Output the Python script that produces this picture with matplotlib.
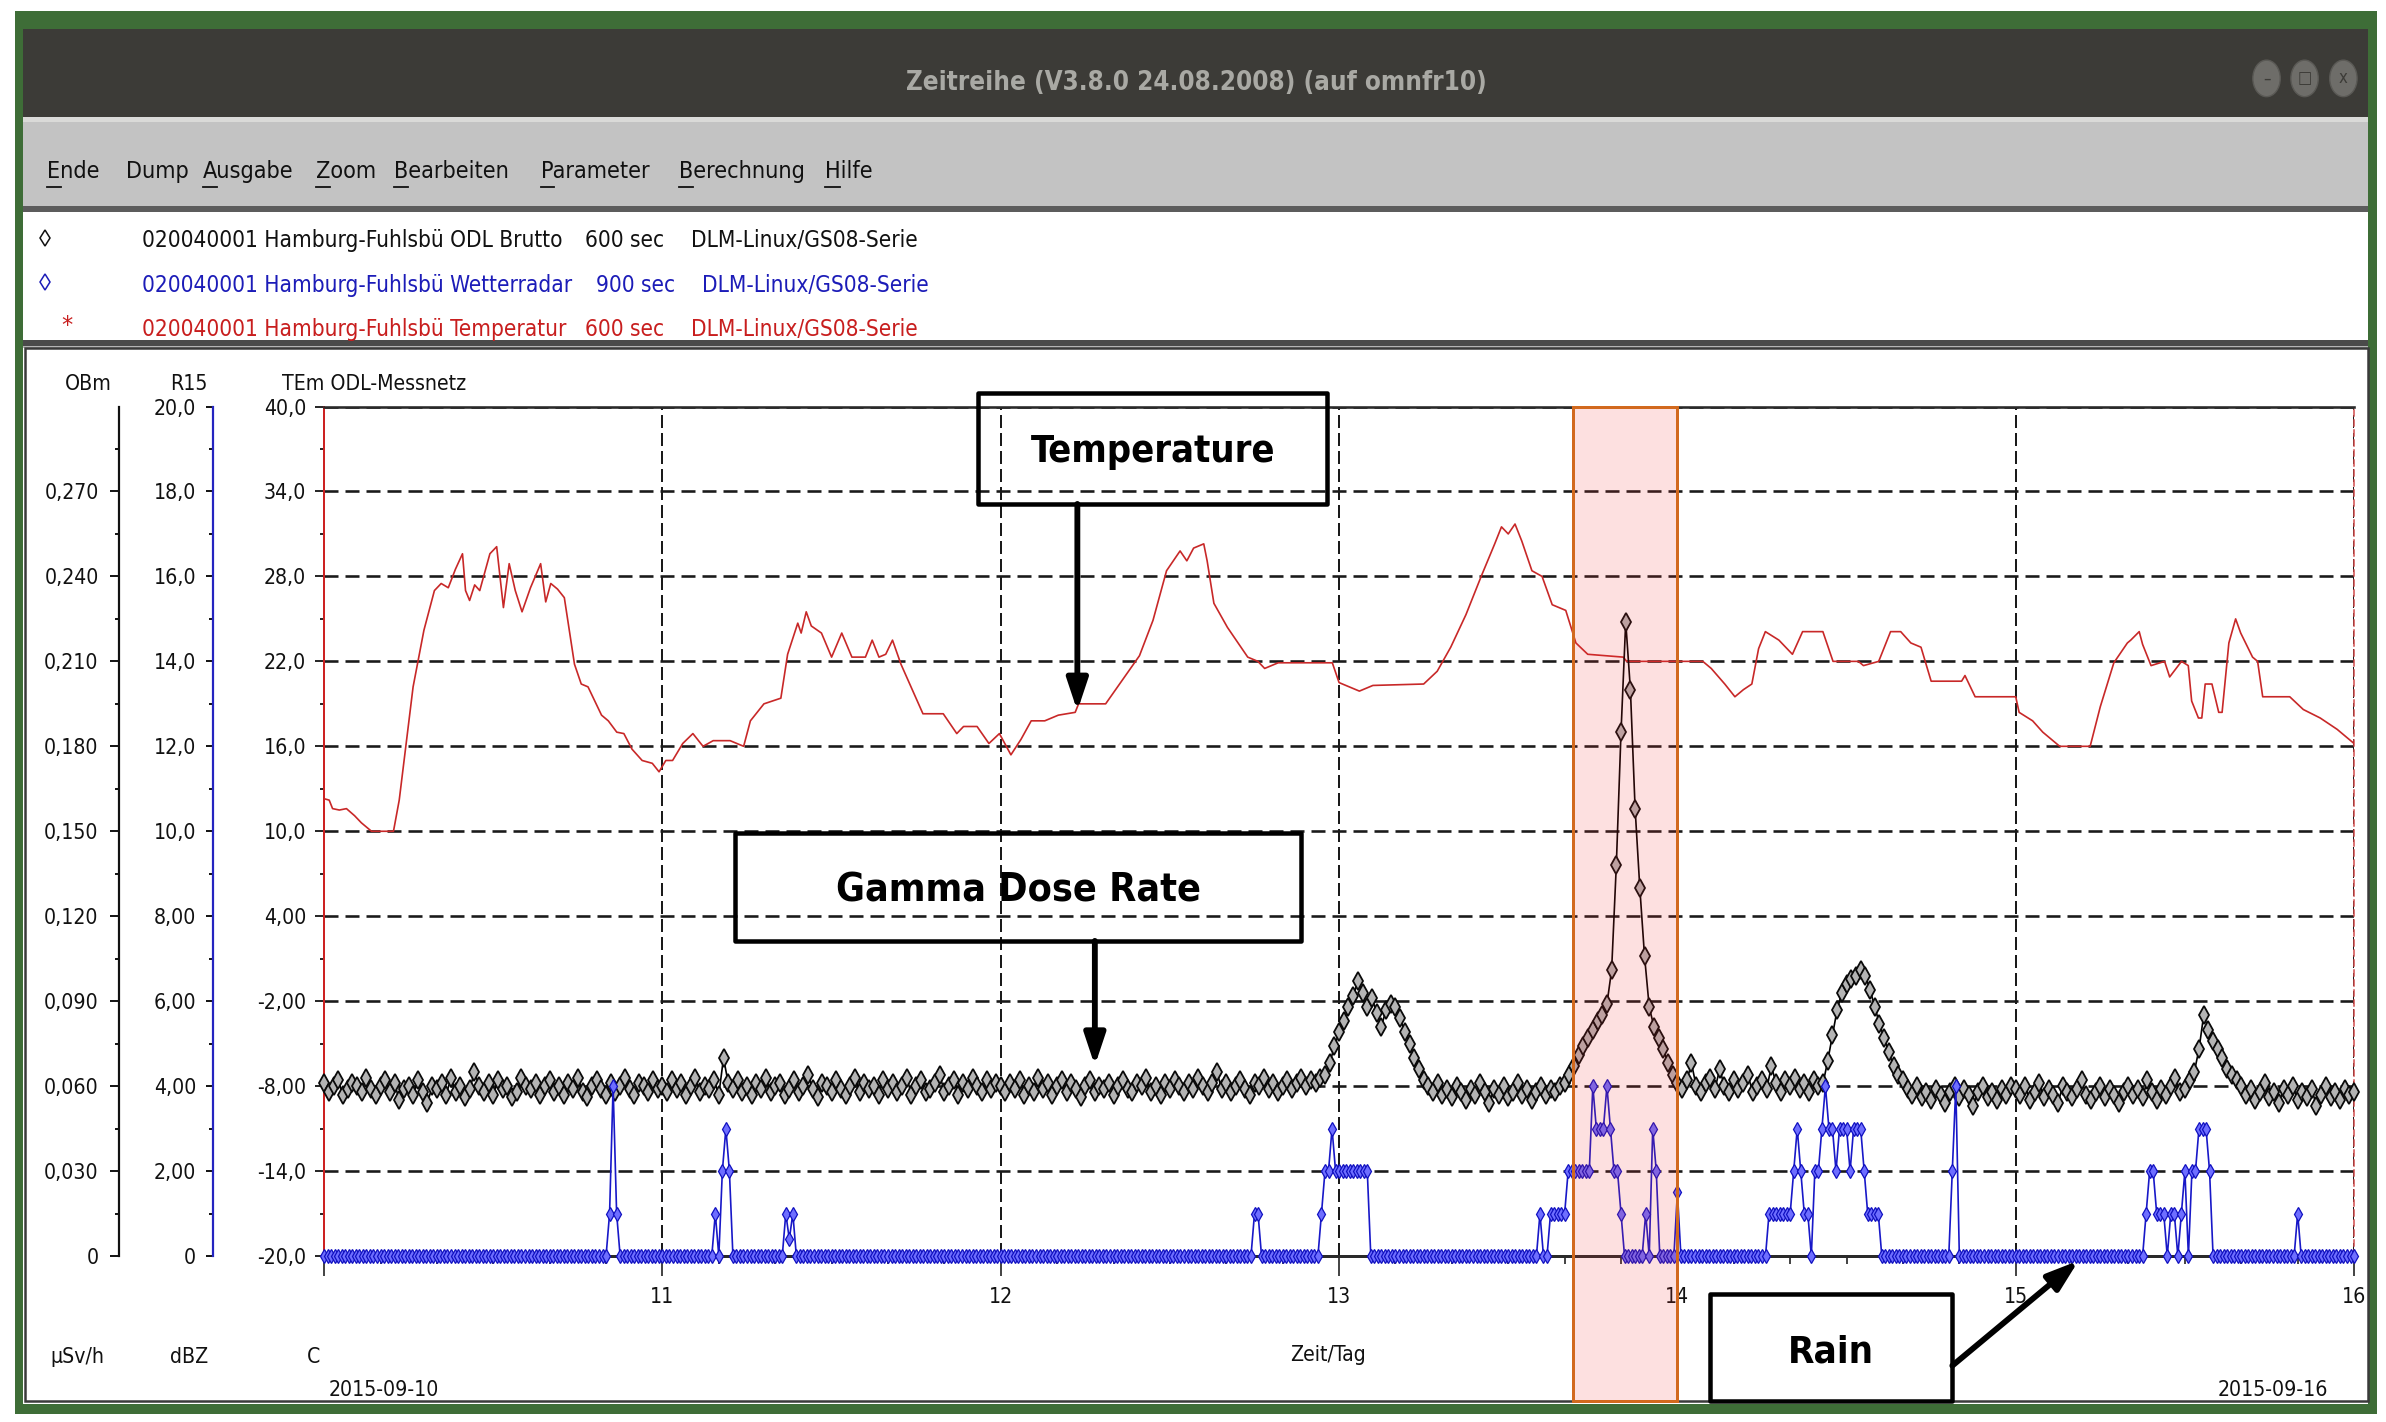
import numpy as np
import matplotlib
matplotlib.use("Agg")
import matplotlib.pyplot as plt
import matplotlib.transforms as mtransforms
from matplotlib import font_manager as fm
from matplotlib.patches import Rectangle, Ellipse, FancyArrowPatch
from matplotlib.lines import Line2D
from matplotlib.ticker import FixedLocator, MultipleLocator

# ------------------------------------------------------------------ font: prefer a narrow face
_COND = ("condensed", "semi-condensed", "extra-condensed", "ultra-condensed")
_font_choice = ("DejaVu Sans", "normal")
_entries = fm.fontManager.ttflist
for _pref in ["Liberation Sans Narrow", "Arial Narrow", "DejaVu Sans", "Noto Sans",
              "Open Sans", "Roboto", "Roboto Condensed", "Open Sans Condensed", "Lato", "Inter"]:
    _hit = [f for f in _entries if f.name == _pref and
            (str(f.stretch) in _COND or "Narrow" in f.name or "Condensed" in f.name)]
    if _hit:
        _font_choice = (_pref, str(_hit[0].stretch))
        break
plt.rcParams["font.family"] = [_font_choice[0], "DejaVu Sans"]
plt.rcParams["font.stretch"] = _font_choice[1]
plt.rcParams["lines.scale_dashes"] = False

# ------------------------------------------------------------------ texts
window_title = "Zeitreihe (V3.8.0 24.08.2008) (auf omnfr10)"
menu_items = ["Ende", "Dump", "Ausgabe", "Zoom", "Bearbeiten", "Parameter", "Berechnung", "Hilfe"]
menu_underlined = [True, False, True, True, True, True, True, True]
legend_names = ["020040001 Hamburg-Fuhlsbü ODL Brutto",
                "020040001 Hamburg-Fuhlsbü Wetterradar",
                "020040001 Hamburg-Fuhlsbü Temperatur"]
legend_intervals = ["600 sec", "900 sec", "600 sec"]
legend_source = "DLM-Linux/GS08-Serie"
axis_names = ["OBm", "R15", "TEm ODL-Messnetz"]
axis_units = ["µSv/h", "dBZ", "C"]
x_title = "Zeit/Tag"
date_first = "2015-09-10"
date_last = "2015-09-16"
annotation_labels = ["Temperature", "Gamma Dose Rate", "Rain"]

# ------------------------------------------------------------------ scales / ticks
obm_ticks = [0, 0.03, 0.06, 0.09, 0.12, 0.15, 0.18, 0.21, 0.24, 0.27]
obm_labels = ["0", "0,030", "0,060", "0,090", "0,120", "0,150", "0,180", "0,210", "0,240", "0,270"]
r15_ticks = [0, 2, 4, 6, 8, 10, 12, 14, 16, 18, 20]
r15_labels = ["0", "2,00", "4,00", "6,00", "8,00", "10,0", "12,0", "14,0", "16,0", "18,0", "20,0"]
tem_ticks = [-20, -14, -8, -2, 4, 10, 16, 22, 28, 34, 40]
tem_labels = ["-20,0", "-14,0", "-8,00", "-2,00", "4,00", "10,0", "16,0", "22,0", "28,0", "34,0", "40,0"]
day_ticks = [10, 11, 12, 13, 14, 15, 16]
day_labels = ["", "11", "12", "13", "14", "15", "16"]
highlight_days = [13.69, 14.0]

# ------------------------------------------------------------------ data
# gamma dose rate (uSv/h), 20-min samples starting 2015-09-10 00:00
gamma_start_day = 10.0
gamma_step_min = 20
gamma = [
    # 10.09.
    0.061, 0.058, 0.060, 0.062, 0.057, 0.059, 0.061, 0.060, 0.058, 0.063, 0.059, 0.057,
    0.060, 0.062, 0.058, 0.061, 0.055, 0.059, 0.060, 0.057, 0.062, 0.058, 0.054, 0.060,
    0.059, 0.061, 0.057, 0.063, 0.058, 0.060, 0.056, 0.059, 0.065, 0.060, 0.058, 0.061,
    0.057, 0.062, 0.059, 0.060, 0.056, 0.058, 0.063, 0.060, 0.059, 0.061, 0.057, 0.060,
    0.062, 0.058, 0.060, 0.057, 0.061, 0.059, 0.063, 0.058, 0.056, 0.060, 0.062, 0.059,
    0.057, 0.061, 0.058, 0.060, 0.063, 0.059, 0.057, 0.061, 0.060, 0.058, 0.062, 0.059,
    # 11.09.
    0.060, 0.058, 0.062, 0.059, 0.061, 0.057, 0.060, 0.063, 0.058, 0.060, 0.059, 0.062,
    0.057, 0.070, 0.061, 0.059, 0.062, 0.058, 0.060, 0.057, 0.061, 0.059, 0.063, 0.058,
    0.060, 0.061, 0.057, 0.059, 0.062, 0.058, 0.060, 0.064, 0.059, 0.056, 0.061, 0.060,
    0.058, 0.062, 0.059, 0.057, 0.060, 0.063, 0.058, 0.061, 0.059, 0.060, 0.057, 0.062,
    0.059, 0.061, 0.058, 0.060, 0.063, 0.057, 0.060, 0.062, 0.058, 0.059, 0.061, 0.064,
    0.058, 0.060, 0.062, 0.057, 0.061, 0.059, 0.063, 0.060, 0.058, 0.062, 0.059, 0.061,
    # 12.09.
    0.060, 0.058, 0.061, 0.059, 0.062, 0.057, 0.060, 0.058, 0.063, 0.059, 0.061, 0.057,
    0.060, 0.062, 0.058, 0.061, 0.059, 0.056, 0.060, 0.062, 0.058, 0.060, 0.059, 0.061,
    0.057, 0.060, 0.062, 0.059, 0.058, 0.061, 0.060, 0.063, 0.058, 0.060, 0.057, 0.061,
    0.059, 0.062, 0.060, 0.058, 0.061, 0.059, 0.063, 0.060, 0.058, 0.061, 0.065, 0.059,
    0.061, 0.058, 0.060, 0.062, 0.059, 0.057, 0.061, 0.060, 0.063, 0.059, 0.061, 0.058,
    0.060, 0.062, 0.059, 0.061, 0.063, 0.060, 0.062, 0.061, 0.063, 0.064, 0.068, 0.074,
    # 13.09.
    0.079, 0.083, 0.088, 0.092, 0.097, 0.093, 0.088, 0.091, 0.086, 0.081, 0.087, 0.089,
    0.088, 0.084, 0.079, 0.075, 0.070, 0.066, 0.062, 0.060, 0.058, 0.061, 0.057, 0.059,
    0.056, 0.060, 0.058, 0.055, 0.059, 0.057, 0.061, 0.058, 0.054, 0.059, 0.057, 0.060,
    0.056, 0.058, 0.061, 0.057, 0.059, 0.055, 0.058, 0.060, 0.057, 0.059, 0.058, 0.060,
    0.061, 0.064, 0.067, 0.071, 0.074, 0.077, 0.080, 0.083, 0.085, 0.089, 0.101, 0.138,
    0.185, 0.224, 0.200, 0.158, 0.130, 0.106, 0.088, 0.081, 0.077, 0.073, 0.068, 0.064,
    # 14.09.
    0.061, 0.059, 0.062, 0.068, 0.060, 0.058, 0.061, 0.063, 0.059, 0.066, 0.060, 0.058,
    0.062, 0.059, 0.061, 0.064, 0.058, 0.060, 0.062, 0.059, 0.067, 0.061, 0.058, 0.062,
    0.060, 0.063, 0.059, 0.061, 0.058, 0.062, 0.060, 0.061, 0.069, 0.078, 0.087, 0.093,
    0.096, 0.098, 0.099, 0.101, 0.099, 0.094, 0.088, 0.082, 0.077, 0.072, 0.067, 0.064,
    0.062, 0.059, 0.057, 0.060, 0.056, 0.058, 0.055, 0.059, 0.057, 0.054, 0.058, 0.060,
    0.056, 0.059, 0.057, 0.053, 0.058, 0.060, 0.056, 0.058, 0.055, 0.059, 0.057, 0.060,
    # 15.09.
    0.059, 0.057, 0.060, 0.055, 0.058, 0.061, 0.056, 0.059, 0.057, 0.054, 0.060, 0.058,
    0.056, 0.059, 0.062, 0.057, 0.055, 0.058, 0.060, 0.056, 0.059, 0.057, 0.054, 0.058,
    0.060, 0.057, 0.059, 0.056, 0.062, 0.058, 0.055, 0.059, 0.057, 0.060, 0.063, 0.058,
    0.059, 0.062, 0.065, 0.073, 0.085, 0.080, 0.076, 0.073, 0.070, 0.066, 0.064, 0.062,
    0.060, 0.057, 0.059, 0.055, 0.058, 0.061, 0.056, 0.058, 0.054, 0.059, 0.057, 0.060,
    0.055, 0.058, 0.056, 0.059, 0.053, 0.057, 0.060, 0.056, 0.058, 0.055, 0.059, 0.057,
    # 16.09. 00:00
    0.058,
]

# rain radar (dBZ), 15-min samples; all samples not listed read as 0
rain_start_day = 10.0
rain_step_min = 15
rain_samples = 577
rain_slot = [81, 82, 83, 111, 113, 114, 115, 131, 132, 133, 264, 265,
             283, 284, 285, 286, 287, 288, 289, 290, 291, 292, 293, 294, 295, 296,
             345, 348, 349, 350, 351, 352, 353, 354, 355, 356, 357, 358, 359,
             360, 361, 362, 363, 364, 365, 366, 367, 368, 375, 377, 378, 384,
             410, 411, 412, 413, 414, 415, 416, 417, 418, 419, 420, 421,
             423, 424, 425, 426, 427, 428, 429, 430, 431, 432, 433, 434, 435, 436, 437,
             438, 439, 440, 441, 462, 463,
             517, 518, 519, 520, 521, 522, 524, 525, 527, 528, 530, 531, 532, 533, 534, 535,
             560]
rain_dbz = [1, 4, 1, 1, 2, 3, 2, 1, 0.4, 1, 1, 1,
            1, 2, 2, 3, 2, 2, 2, 2, 2, 2, 2, 2, 2, 2,
            1, 1, 1, 1, 1, 1, 2, 2, 2, 2, 2, 2, 2,
            4, 3, 3, 3, 4, 3, 2, 2, 1, 1, 3, 2, 1.5,
            1, 1, 1, 1, 1, 1, 1, 2, 3, 2, 1, 1,
            2, 2, 3, 4, 3, 3, 2, 3, 3, 3, 2, 3, 3, 3, 2,
            1, 1, 1, 1, 2, 4,
            1, 2, 2, 1, 1, 1, 1, 1, 1, 2, 2, 2, 3, 3, 3, 2,
            1]

# temperature (C), digitised vertices (day, value)
temp_day = [
    10.000, 10.015, 10.025, 10.045, 10.066, 10.090, 10.110, 10.140, 10.205, 10.222,
    10.263, 10.295, 10.326, 10.346, 10.367, 10.388, 10.409, 10.418, 10.430, 10.445,
    10.460, 10.490, 10.510, 10.530, 10.547, 10.565, 10.585, 10.610, 10.640, 10.655,
    10.670, 10.690, 10.710, 10.740, 10.760, 10.780, 10.800, 10.820, 10.840, 10.865,
    10.886, 10.910, 10.940, 10.970, 10.990, 11.010, 11.030, 11.060, 11.090, 11.120,
    11.150, 11.200, 11.240, 11.260, 11.300, 11.350, 11.370, 11.400, 11.410, 11.425,
    11.440, 11.470, 11.500, 11.530, 11.560, 11.600, 11.620, 11.640, 11.660, 11.680,
    11.705, 11.770, 11.830, 11.870, 11.890, 11.930, 11.965, 11.996, 12.030, 12.060,
    12.090, 12.130, 12.170, 12.220, 12.230, 12.310, 12.360, 12.410, 12.450, 12.490,
    12.530, 12.550, 12.570, 12.600, 12.610, 12.630, 12.670, 12.730, 12.760, 12.780,
    12.820, 12.980, 13.000, 13.060, 13.100, 13.250, 13.290, 13.330, 13.375, 13.420,
    13.460, 13.480, 13.500, 13.520, 13.540, 13.570, 13.600, 13.630, 13.670, 13.700,
    13.735, 13.840, 13.850, 14.075, 14.100, 14.140, 14.170, 14.195, 14.220, 14.240,
    14.260, 14.300, 14.340, 14.370, 14.430, 14.460, 14.535, 14.550, 14.595, 14.630,
    14.660, 14.690, 14.720, 14.750, 14.840, 14.850, 14.880, 15.000, 15.010, 15.050,
    15.080, 15.110, 15.130, 15.220, 15.250, 15.290, 15.330, 15.340, 15.365, 15.375,
    15.400, 15.440, 15.455, 15.490, 15.510, 15.520, 15.540, 15.550, 15.560, 15.580,
    15.600, 15.610, 15.630, 15.650, 15.665, 15.700, 15.715, 15.730, 15.810, 15.850,
    15.900, 15.950, 16.000]
temp_val = [
    12.3, 12.2, 11.6, 11.5, 11.6, 11.1, 10.6, 10.0, 10.0, 12.2,
    20.2, 24.2, 27.0, 27.5, 27.2, 28.5, 29.6, 27.0, 26.3, 27.4,
    27.0, 29.6, 30.1, 25.8, 28.9, 27.0, 25.5, 27.2, 28.9, 26.2,
    27.5, 27.1, 26.5, 21.8, 20.4, 20.2, 19.2, 18.2, 17.8, 17.0,
    16.9, 15.8, 15.0, 14.8, 14.2, 15.0, 15.0, 16.2, 16.9, 16.0,
    16.4, 16.4, 16.0, 17.8, 19.0, 19.4, 22.5, 24.7, 24.0, 25.5,
    24.5, 24.0, 22.3, 24.0, 22.3, 22.3, 23.5, 22.3, 22.5, 23.5,
    21.8, 18.3, 18.3, 16.9, 17.4, 17.4, 16.2, 16.9, 15.4, 16.5,
    17.8, 17.8, 18.2, 18.4, 19.0, 19.0, 20.7, 22.4, 24.9, 28.4,
    29.8, 29.1, 30.0, 30.3, 29.1, 26.1, 24.4, 22.3, 22.0, 21.5,
    21.9, 21.9, 20.5, 19.9, 20.3, 20.4, 21.3, 23.0, 25.3, 28.0,
    30.3, 31.5, 31.0, 31.7, 30.5, 28.4, 28.0, 26.0, 25.6, 23.3,
    22.5, 22.3, 22.0, 22.0, 21.5, 20.4, 19.5, 20.0, 20.4, 22.9,
    24.1, 23.5, 22.5, 24.1, 24.1, 22.0, 22.0, 21.7, 22.0, 24.1,
    24.1, 23.3, 23.0, 20.6, 20.6, 21.0, 19.5, 19.5, 18.4, 17.8,
    17.0, 16.4, 16.0, 16.0, 18.8, 21.9, 23.3, 23.5, 24.1, 23.2,
    21.7, 22.0, 20.9, 22.0, 21.7, 19.2, 18.0, 18.0, 20.4, 20.4,
    18.4, 18.4, 23.3, 25.0, 24.0, 22.3, 22.0, 19.5, 19.5, 18.6,
    18.0, 17.2, 16.2]

# ------------------------------------------------------------------ derived series
gamma_t = gamma_start_day + np.arange(len(gamma)) * gamma_step_min / 1440.0
rain_t = rain_start_day + np.arange(rain_samples) * rain_step_min / 1440.0
rain = np.zeros(rain_samples)
rain[np.array(rain_slot)] = rain_dbz

# ------------------------------------------------------------------ layout helpers
W0, H0 = 1568.0, 934.0          # layout grid
FIG_W, FIG_H = 2386, 1422
S = FIG_W / W0

fig = plt.figure(figsize=(FIG_W / 100, FIG_H / 100), dpi=100)
fig.patch.set_facecolor("white")
renderer = fig.canvas.get_renderer()


def fx(x):
    return x / W0


def fy(y):
    return 1.0 - y / H0


def P(px):   # output pixels -> points
    return px * 0.72


def rect(x0, y0, x1, y1, **kw):
    r = Rectangle((fx(x0), fy(y1)), fx(x1) - fx(x0), fy(y0) - fy(y1),
                  transform=fig.transFigure, **kw)
    fig.add_artist(r)
    return r


def ftext(x, y, s, size, **kw):
    return fig.text(fx(x), fy(y), s, fontsize=size, **kw)


def fit_size(s, width_grid, **kw):
    t = fig.text(0, 0, s, fontsize=20, **kw)
    w = t.get_window_extent(renderer).width
    t.remove()
    return 20.0 * width_grid * S / w


def text_width_grid(s, size, **kw):
    t = fig.text(0, 0, s, fontsize=size, **kw)
    w = t.get_window_extent(renderer).width
    t.remove()
    return w / S


# ------------------------------------------------------------------ window chrome
rect(10, 7, 1562, 929, facecolor="#3e6d37", edgecolor="none", zorder=-10)
rect(15, 19, 1556, 922, facecolor="white", edgecolor="none", zorder=-9)
rect(15, 19, 1556, 77, facecolor="#3c3b37", edgecolor="none", zorder=-8)
rect(15, 77, 1556, 80, facecolor="#dadad8", edgecolor="none", zorder=-8)
rect(15, 80, 1556, 135, facecolor="#c3c3c3", edgecolor="none", zorder=-8)
rect(15, 135, 1556, 139, facecolor="#5c5c5c", edgecolor="none", zorder=-8)
rect(15, 223.5, 1556, 227, facecolor="#4a4a4a", edgecolor="none", zorder=-8)
rect(15, 227, 1556, 228.5, facecolor="#b4b4b4", edgecolor="none", zorder=-8)
rect(16.5, 228.5, 1556, 920.5, facecolor="none", edgecolor="#3a3a3a", lw=1.8, zorder=-7)

title_size = fit_size(window_title, 381, fontweight="bold")
ftext(786, 59, window_title, title_size, color="#a9a9a4", fontweight="bold",
      ha="center", va="baseline")

for bx, sym in zip([1489.5, 1514.5, 1540], ["–", "□", "x"]):
    e = Ellipse((fx(bx), fy(51.5)), fx(18), 24 / H0, transform=fig.transFigure,
                facecolor="#6e6d69", edgecolor="#5a5955", lw=1, zorder=-6)
    fig.add_artist(e)
    ftext(bx, 51.5, sym, 12, color="#3c3b37", ha="center", va="center",
          family=["DejaVu Sans"])

menu_size = fit_size("Bearbeiten", 75.4)
menu_x = [31.2, 83, 133.3, 207.6, 259, 355.5, 446, 542]
for mx, item, ul in zip(menu_x, menu_items, menu_underlined):
    ftext(mx, 117, item, menu_size, color="#111111", ha="left", va="baseline")
    if ul:
        w = text_width_grid(item[0], menu_size)
        fig.add_artist(Line2D([fx(mx), fx(mx + w)], [fy(122.5), fy(122.5)],
                              transform=fig.transFigure, color="#111111", lw=1.3))

# station legend
leg_size = fit_size(legend_names[0], 276.5)
leg_colors = ["#111111", "#1c1cb8", "#c81e1e"]
leg_base = [162, 191.6, 221]
leg_int_x = [384.6, 392, 384.6]
leg_src_x = [454, 461.5, 454]
for i in range(3):
    ftext(93, leg_base[i], legend_names[i], leg_size, color=leg_colors[i], va="baseline")
    ftext(leg_int_x[i], leg_base[i], legend_intervals[i], leg_size, color=leg_colors[i], va="baseline")
    ftext(leg_src_x[i], leg_base[i], legend_source, leg_size, color=leg_colors[i], va="baseline")
for yy, c in zip([156, 185], leg_colors[:2]):
    fig.add_artist(Line2D([fx(29.5)], [fy(yy)], transform=fig.transFigure, marker="d",
                          ms=8.5, mfc="none", mec=c, mew=1.1, ls="none"))
ftext(44, 219, "*", leg_size * 1.1, color=leg_colors[2], ha="center", va="baseline")

# ------------------------------------------------------------------ axes
PL, PR, PT, PB = 213, 1547, 267, 825
ax = fig.add_axes([fx(PL), fy(PB), fx(PR) - fx(PL), fy(PT) - fy(PB)])
ax.set_xlim(10, 16)
ax.set_ylim(-20, 40)
ax2 = ax.twinx()
ax3 = ax.twinx()
ax2.set_ylim(0, 0.3)
ax3.set_ylim(0, 20)

lab_size = fit_size(axis_names[2], 121.2)

# main (temperature) axis
ax.set_yticks(tem_ticks, tem_labels)
ax.yaxis.set_minor_locator(FixedLocator([t + 3 for t in tem_ticks[:-1]]))
ax.tick_params(axis="y", which="major", direction="out", length=P(9), width=1.2,
               color="black", pad=P(9), labelsize=lab_size, labelcolor="#111111")
ax.tick_params(axis="y", which="minor", direction="out", length=P(4.5), width=1.2, color="black")
ax.set_xticks(day_ticks, day_labels)
ax.xaxis.set_minor_locator(MultipleLocator(1 / 6))
ax.tick_params(axis="x", which="major", direction="out", length=P(20), width=1.2,
               color="#222222", pad=P(11), labelsize=lab_size, labelcolor="#111111")
ax.tick_params(axis="x", which="minor", direction="out", length=P(8), width=1.2, color="#222222")
ax.set_axisbelow(True)
ax.grid(axis="y", which="major", color="#1a1a1a", lw=P(2.6), ls=(0, (P(14), P(7))))
ax.grid(axis="x", which="major", color="#1a1a1a", lw=P(2.0), ls=(0, (P(13), P(5))))
ax.spines["left"].set_color("#cc2222")
ax.spines["left"].set_linewidth(P(2))
ax.spines["top"].set_color("#2a2a2a")
ax.spines["top"].set_linewidth(P(2.6))
ax.spines["bottom"].set_color("#2a2a2a")
ax.spines["bottom"].set_linewidth(P(3))
ax.spines["right"].set_color("#d04848")
ax.spines["right"].set_linewidth(P(1.5))
ax.spines["right"].set_linestyle((0, (P(6), P(4))))

ax.plot(temp_day, temp_val, color="#c82828", lw=1.2, zorder=3)

# gamma (OBm) and rain (R15) scales on the left
for a, xpos, col in [(ax2, 78, "#111111"), (ax3, 140, "#2424c0")]:
    a.yaxis.tick_left()
    a.yaxis.set_label_position("left")
    for sp in ("top", "right", "bottom"):
        a.spines[sp].set_visible(False)
    a.spines["left"].set_visible(True)
    a.spines["left"].set_position(("axes", (xpos - PL) / (PR - PL)))
    a.spines["left"].set_color(col)
    a.spines["left"].set_linewidth(P(2.2))

ax2.set_yticks(obm_ticks, obm_labels)
ax2.yaxis.set_minor_locator(FixedLocator([t + 0.015 for t in obm_ticks]))
ax2.tick_params(axis="y", which="major", direction="out", length=P(9), width=1.3,
                color="black", pad=P(11), labelsize=lab_size, labelcolor="#111111")
ax2.tick_params(axis="y", which="minor", direction="out", length=P(4), width=1.3, color="black")

ax3.set_yticks(r15_ticks, r15_labels)
ax3.yaxis.set_minor_locator(FixedLocator([t + 1 for t in r15_ticks[:-1]]))
ax3.tick_params(axis="y", which="major", direction="out", length=P(7), width=1.3,
                color="black", pad=P(10), labelsize=lab_size, labelcolor="#111111")
ax3.tick_params(axis="y", which="minor", direction="out", length=P(4), width=1.3, color="black")

ax2.plot(gamma_t, gamma, color="black", lw=1.2, marker="d", ms=9, mfc="#b4b4b4",
         mec="#0a0a0a", mew=1.3, clip_on=False, zorder=3)
ax3.plot(rain_t, rain, color="#1818c8", lw=1.2, marker="d", ms=7.5, mfc="#6e6eff",
         mec="#1010c0", mew=0.9, clip_on=False, zorder=4)

# highlighted interval
blend = mtransforms.blended_transform_factory(ax3.transData, ax3.transAxes)
ax3.add_patch(Rectangle((highlight_days[0], (PB - 920) / (PB - PT)),
                        highlight_days[1] - highlight_days[0], 1 - (PB - 920) / (PB - PT),
                        transform=blend, facecolor=(0.95, 0.2, 0.2, 0.15),
                        edgecolor="#d2691e", lw=P(3), clip_on=False, zorder=10))

# ------------------------------------------------------------------ axis captions
ftext(73.5, 256, axis_names[0], lab_size, ha="right", va="baseline", color="#111111")
ftext(136.5, 256, axis_names[1], lab_size, ha="right", va="baseline", color="#111111")
ftext(185.4, 256, axis_names[2], lab_size, ha="left", va="baseline", color="#111111")
ftext(51, 895, axis_units[0], lab_size, ha="center", va="baseline", color="#111111")
ftext(124, 895, axis_units[1], lab_size, ha="center", va="baseline", color="#111111")
ftext(206, 895, axis_units[2], lab_size, ha="center", va="baseline", color="#111111")
ftext(873, 894, x_title, lab_size, ha="center", va="baseline", color="#111111")
ftext(215.7, 916.7, date_first, lab_size, ha="left", va="baseline", color="#111111")
ftext(1530, 916.7, date_last, lab_size, ha="right", va="baseline", color="#111111")

# ------------------------------------------------------------------ annotations
boxes = [(643, 258, 872, 331), (483, 547, 855, 618), (1124, 850, 1283, 920)]
label_w = [161, 240, 56.6]
label_c = [(757.5, 294.5), (669, 583), (1203, 886)]
for (x0, y0, x1, y1), s, w, (cx, cy) in zip(boxes, annotation_labels, label_w, label_c):
    rect(x0, y0, x1, y1, facecolor="none", edgecolor="black", lw=P(4.5),
         joinstyle="round", zorder=12)
    sz = fit_size(s, w, fontweight="bold")
    ftext(cx, cy + 0.5 * sz / S, s, sz, fontweight="bold", ha="center", va="baseline",
          color="black", zorder=12)

arrows = [((708, 331), (708, 467)), ((719.5, 618), (719.5, 700)), ((1283, 897), (1366, 828))]
for (xa, ya), (xb, yb) in arrows:
    fig.add_artist(FancyArrowPatch((fx(xa), fy(ya)), (fx(xb), fy(yb)),
                                   transform=fig.transFigure,
                                   arrowstyle="-|>,head_length=0.9,head_width=0.3",
                                   mutation_scale=21, lw=4.2, color="black",
                                   shrinkA=0, shrinkB=0, zorder=13))

fig.savefig("out.png", dpi=100)
